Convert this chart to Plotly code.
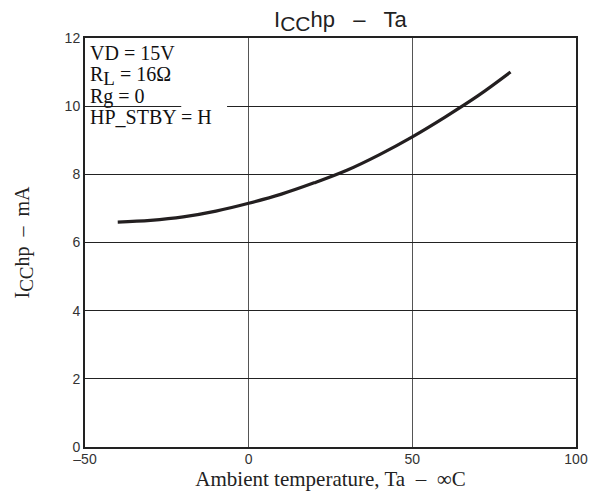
import plotly.graph_objects as go

# Data
temps = [-40, -30, -20, -10, 0, 10, 20, 30, 40, 50, 60, 70, 80]
icc_ma = [6.6, 6.65, 6.75, 6.92, 7.15, 7.42, 7.75, 8.12, 8.58, 9.1, 9.68, 10.3, 11.0]
x_ticks = [-50, 0, 50, 100]
x_tick_text = ["–50", "0", "50", "100"]
y_ticks = [0, 2, 4, 6, 8, 10, 12]
conditions = ["VD = 15V", "R<sub><span style='font-size:19px'>L</span></sub> = 16Ω", "Rg = 0", "HP_STBY = H"]

fig = go.Figure()
fig.add_trace(go.Scatter(x=temps, y=icc_ma, mode="lines", line=dict(color="#231f20", width=3.2, shape="spline"),
                         hoverinfo="skip", showlegend=False))

sans = "Liberation Sans, Arial, sans-serif"
serif = "Liberation Serif, Times New Roman, serif"

fig.update_layout(
    width=601, height=494,
    margin=dict(l=77, r=33, t=30, b=55),
    paper_bgcolor="white", plot_bgcolor="white",
    title=dict(text="I<sub><span style='font-size:21px'>CC</span></sub>hp   –   Ta", x=0.553, xanchor="center",
               yref="container", y=0.978, yanchor="middle",
               font=dict(family=sans, size=22, color="#222")),
    xaxis=dict(range=[-50, 100], tickvals=x_ticks, ticktext=x_tick_text,
               showgrid=True, gridcolor="#555", gridwidth=1, zeroline=False,
               showline=True, linecolor="#222", linewidth=2, mirror=True, ticks="", ticklen=0,
               ticklabelstandoff=-2,
               tickfont=dict(family=sans, size=14, color="#333"),
               title=dict(text="Ambient temperature, Ta  –  ∞C", standoff=4,
                          font=dict(family=serif, size=21, color="#222"))),
    yaxis=dict(range=[0, 12], tickvals=y_ticks,
               showgrid=True, gridcolor="#222", gridwidth=1, zeroline=False,
               showline=True, linecolor="#222", linewidth=2, mirror=True, ticks="", ticklen=0,
               tickfont=dict(family=sans, size=14, color="#333"),
               title=dict(text="I<sub><span style='font-size:19px'>CC</span></sub>hp  –  mA", standoff=30,
                          font=dict(family=serif, size=20, color="#222"))),
)

# white gap in the 10 mA grid line next to the conditions text
fig.add_shape(type="line", xref="x", yref="y", x0=-20.6, x1=-6.6, y0=10, y1=10,
              line=dict(color="white", width=3), layer="above")

ys = [0.963, 0.907, 0.856, 0.806]
for txt, yy in zip(conditions, ys):
    fig.add_annotation(text=txt, xref="paper", yref="paper", x=0.006, y=yy, xanchor="left", yanchor="middle",
                       showarrow=False, font=dict(family=serif, size=20, color="#111"))

fig.write_html("out.html")
